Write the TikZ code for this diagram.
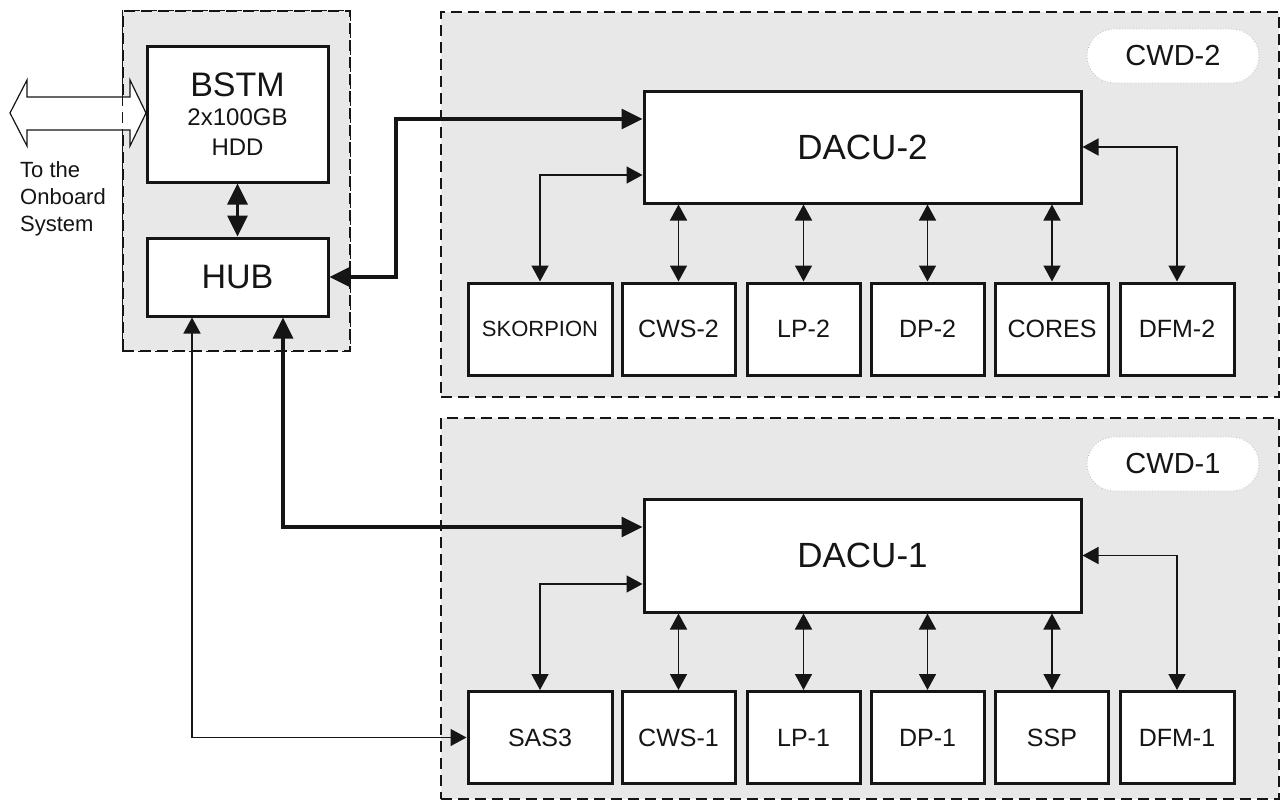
\documentclass[tikz,border=0pt]{standalone}
\usepackage{fontspec}
\setmainfont{Liberation Sans}
\usetikzlibrary{arrows.meta}
\definecolor{grpfill}{HTML}{E8E8E8}
\definecolor{labline}{HTML}{BBBBBB}
\definecolor{ink}{HTML}{151515}
\tikzset{
  x=1pt, y=-1pt,
  grp/.style={draw=ink, fill=grpfill, line width=1.4pt, dash pattern=on 11pt off 6pt},
  grpline/.style={draw=ink, line width=1.4pt, dash pattern=on 11pt off 6pt},
  blk/.style={draw=ink, fill=white, line width=3pt, inner sep=0pt, text=ink},
  small/.style={blk, minimum width=113pt, minimum height=92pt, font=\fontsize{25}{28}\selectfont},
  lab/.style={draw=labline, dotted, fill=white, line width=0.8pt, rounded corners=27pt,
    minimum width=172pt, minimum height=54pt, inner sep=0pt, text=ink, font=\fontsize{29}{30}\selectfont},
  thickarr/.style={draw=ink, line width=3.2pt,
    {Triangle[length=21pt,width=20pt]}-{Triangle[length=21pt,width=20pt]}},
  thinarr/.style={draw=ink, line width=1.6pt,
    {Triangle[length=16pt,width=17pt]}-{Triangle[length=16pt,width=17pt]}},
  hollow/.style={draw=ink, fill=white, line width=1.2pt, line join=miter}
}
\begin{document}
\begin{tikzpicture}
\useasboundingbox (0,0) rectangle (1283,803);
\fill[white] (0,0) rectangle (1283,803);

% groups
\node[grp, inner sep=0pt, minimum width=227pt, minimum height=340pt] (leftgrp) at (236.5,181) {};
\node[grp, inner sep=0pt, minimum width=838pt, minimum height=385pt] (cwd2grp) at (860,204.5) {};
\node[grp, inner sep=0pt, minimum width=838pt, minimum height=381pt] (cwd1grp) at (860,608.5) {};

% hollow double arrow to the onboard system
\coordinate (ha) at (10,113);
\coordinate (hb) at (146,113);
\draw[hollow] (ha) -- ++(17,-33) -- ++(0,17) -- ++(103,0) -- ++(0,-17) -- (hb)
  -- ++(-16,33) -- ++(0,-16) -- ++(-103,0) -- ++(0,16) -- cycle;
\draw[grpline] (leftgrp.north west) rectangle (leftgrp.south east);

\node[anchor=west, align=left, inner sep=0pt, text=ink, font=\fontsize{22}{27}\selectfont] (onb) at (20,199) {To the\\Onboard\\System};

% left blocks
\node[blk, minimum width=181pt, minimum height=136pt, align=center, font=\fontsize{24}{30}\selectfont] (bstm) at (237.5,114)
  {{\fontsize{34}{34}\selectfont BSTM}\\[-1pt]2x100GB\\HDD};
\node[blk, minimum width=181pt, minimum height=78pt, font=\fontsize{34}{36}\selectfont] (hub) at (237.5,277) {HUB};

% labels
\node[lab] (cwd2lab) at (1173,56) {CWD-2};
\node[lab] (cwd1lab) at (1173,464) {CWD-1};

% DACU blocks
\node[blk, minimum width=437pt, minimum height=112pt, font=\fontsize{35}{36}\selectfont] (dacu2) at (862.5,147) {DACU-2};
\node[blk, minimum width=437pt, minimum height=113pt, font=\fontsize{35}{36}\selectfont] (dacu1) at (862.5,555.5) {DACU-1};

% row 2
\node[small, minimum width=144pt, font=\fontsize{22}{24}\selectfont] (skor) at (540,329) {SKORPION};
\node[small] (cws2) at (678.5,329) {CWS-2};
\node[small] (lp2) at (803.5,329) {LP-2};
\node[small] (dp2) at (927.5,329) {DP-2};
\node[small] (cores) at (1052,329) {CORES};
\node[small, minimum width=114pt] (dfm2) at (1177,329) {DFM-2};

% row 1
\node[small, minimum width=144pt] (sas3) at (540,737.5) {SAS3};
\node[small] (cws1) at (678.5,737.5) {CWS-1};
\node[small] (lp1) at (803.5,737.5) {LP-1};
\node[small] (dp1) at (927.5,737.5) {DP-1};
\node[small] (ssp) at (1052,737.5) {SSP};
\node[small, minimum width=114pt] (dfm1) at (1177,737.5) {DFM-1};

% connectors
\draw[thickarr] (bstm.south) -- (hub.north);

\coordinate (j1) at (396,119);
\draw[thickarr] (hub.east) -| (j1) -- (j1 -| dacu2.west);

\coordinate (j2) at (283,527);
\draw[thickarr] (j2 |- hub.south) -- (j2) -- (j2 -| dacu1.west);

\coordinate (j3) at (192,737.5);
\draw[thinarr] (j3 |- hub.south) -- (j3) -- (sas3.west);

\coordinate (k2) at (600,175);
\draw[thinarr] (skor.north) |- (k2 -| dacu2.west);
\coordinate (k1) at (600,584);
\draw[thinarr] (sas3.north) |- (k1 -| dacu1.west);

\draw[thinarr] (dacu2.east) -| (dfm2.north);
\draw[thinarr] (dacu1.east) -| (dfm1.north);

\foreach \b in {cws2,lp2,dp2,cores}{
  \draw[thinarr] (dacu2.south -| \b.north) -- (\b.north);
}
\foreach \b in {cws1,lp1,dp1,ssp}{
  \draw[thinarr] (dacu1.south -| \b.north) -- (\b.north);
}
\end{tikzpicture}
\end{document}
